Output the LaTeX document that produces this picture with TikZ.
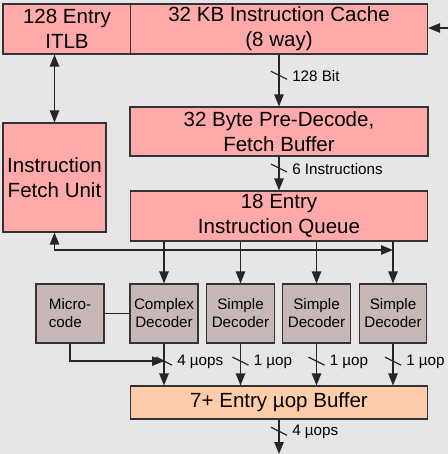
\documentclass[tikz,border=0pt]{standalone}
\usepackage{fontspec}
\setmainfont{Liberation Sans}
\usetikzlibrary{arrows.meta,calc}
\definecolor{unitred}{HTML}{FFAAAA}
\definecolor{decgray}{HTML}{C8B7B7}
\definecolor{bufpeach}{HTML}{FFCCAA}
\definecolor{bggray}{HTML}{E6E6E6}
\definecolor{edgegray}{HTML}{333333}
\tikzset{
  unit/.style={draw=edgegray, fill=unitred, line width=0.8pt, align=center,
    inner sep=0pt, font=\fontsize{15.4}{18.8}\selectfont},
  decoder/.style={draw=edgegray, fill=decgray, line width=0.8pt, align=center,
    inner sep=0pt, minimum width=50.5pt, minimum height=44.25pt,
    font=\fontsize{11.4}{13.5}\selectfont},
  arr/.style={-{Triangle[length=9pt,width=7pt]}, line width=1.1pt, draw=black!85},
  biarr/.style={{Triangle[length=9pt,width=7pt]}-{Triangle[length=9pt,width=7pt]},
    line width=1.1pt, draw=black!85},
  wire/.style={line width=1.1pt, draw=black!85},
  slash/.style={line width=0.9pt, draw=black!85},
  buslabel/.style={font=\fontsize{11.4}{13}\selectfont, inner sep=3.75pt}
}
% bus width mark: coordinate, label name, text
\newcommand{\busmark}[3]{%
  \draw[slash] ($(#1)+(-8,-4)$) -- ($(#1)+(8,4)$);
  \node[buslabel,right] (#2) at ($(#1)+(8,1)$) {#3};}

\begin{document}
\begin{tikzpicture}[x=0.75pt,y=-0.75pt]
    \fill[bggray] (0,0) rectangle (448,454);
    \useasboundingbox (0,0) rectangle (448,454);
    % fetch units
    \node[unit, minimum width=96pt, minimum height=37.5pt] (itlb) at (67,29) {128 Entry\\ITLB};
    \node[unit, minimum width=222.75pt, minimum height=37.5pt] (cache) at (279,29) {32 KB Instruction Cache\\(8 way)};
    \node[unit, minimum width=223.5pt, minimum height=36.75pt] (predec) at (279,131.5) {32 Byte Pre-Decode,\\Fetch Buffer};
    \node[unit, minimum width=77.25pt, minimum height=81.75pt] (ifu) at (54.5,177.5) {Instruction\\Fetch Unit};
    \node[unit, minimum width=222.75pt, minimum height=37.5pt] (queue) at (279,216) {18 Entry\\Instruction Queue};
    % decoders
    \node[decoder, minimum width=51pt, align=left] (micro) at (70,313.5) {Micro-\\code};
    \node[decoder, minimum width=51pt] (complex) at (164,313.5) {Complex\\Decoder};
    \node[decoder] (simplea) at (240.5,313.5) {Simple\\Decoder};
    \node[decoder] (simpleb) at (316.5,313.5) {Simple\\Decoder};
    \node[decoder] (simplec) at (393,313.5) {Simple\\Decoder};
    % uop buffer
    \node[unit, fill=bufpeach, minimum width=222.75pt, minimum height=24.75pt] (buffer) at (279,402.5) {7+ Entry µop Buffer};
    \coordinate (l2in) at (448,28);
    \coordinate (tap) at (393,250);
    \coordinate (out) at (279,454);
    % connections
    \draw[arr] (l2in) -- (cache.east |- l2in);
    \draw[biarr] (itlb.south -| ifu.north) -- (ifu.north);
    \draw[arr] (cache.south) -- coordinate[pos=0.4] (b1) (predec.north);
    \busmark{b1}{b1l}{128 Bit}
    \draw[arr] (predec.south) -- coordinate[pos=0.34] (b2) (queue.north);
    \busmark{b2}{b2l}{6 Instructions}
    \draw[biarr] (ifu.south) |- (tap);
    \foreach \d in {complex,simplea,simpleb,simplec}
        \draw[arr] (queue.south -| \d.north) -- (\d.north);
    \draw[wire] (micro.east) -- (complex.west);
    \draw[arr] (complex.south) -- coordinate[pos=0.42] (u1) (buffer.north -| complex.south);
    \draw[arr] (micro.south) |- (u1);
    \busmark{u1}{u1l}{4 µops}
    \draw[arr] (simplea.south) -- coordinate[pos=0.42] (u2) (buffer.north -| simplea.south);
    \busmark{u2}{u2l}{1 µop}
    \draw[arr] (simpleb.south) -- coordinate[pos=0.42] (u3) (buffer.north -| simpleb.south);
    \busmark{u3}{u3l}{1 µop}
    \draw[arr] (simplec.south) -- coordinate[pos=0.42] (u4) (buffer.north -| simplec.south);
    \busmark{u4}{u4l}{1 µop}
    \draw[arr] (buffer.south) -- coordinate[pos=0.34] (u5) (out);
    \busmark{u5}{u5l}{4 µops}
\end{tikzpicture}
\end{document}
